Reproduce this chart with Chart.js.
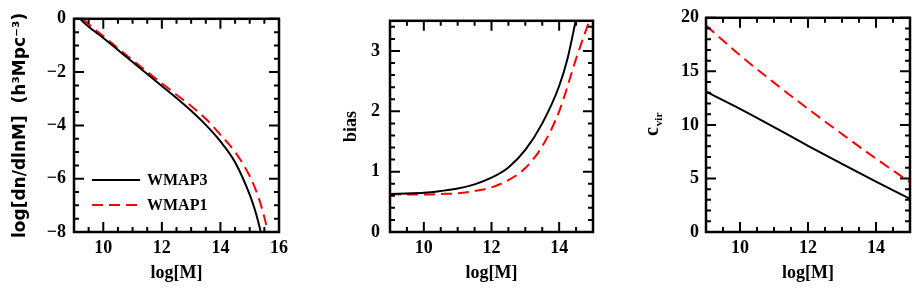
<!DOCTYPE html>
<html>
<head>
<meta charset="utf-8">
<script src="https://cdn.jsdelivr.net/npm/chart.js@4.4.1/dist/chart.umd.min.js"></script>
<style>
  body { margin: 0; background: #fff; width: 916px; height: 288px; position: relative; overflow: hidden; }
  canvas { position: absolute; top: 0; }
</style>
</head>
<body>
<canvas id="massChart" width="300" height="288" style="left:0"></canvas>
<canvas id="biasChart" width="305" height="288" style="left:305px"></canvas>
<canvas id="concChart" width="301" height="288" style="left:615px"></canvas>
<script>
// mass function, log(dn/dlnM)
const massX3 = [9.2, 9.5, 10, 11, 12, 12.5, 13, 13.5, 14, 14.5, 15, 15.2, 15.38];
const massY3 = [0, -0.3, -0.72, -1.62, -2.52, -2.97, -3.45, -3.98, -4.6, -5.38, -6.6, -7.25, -8];
const massX1 = [9.3, 9.5, 10, 11, 12, 12.5, 13, 13.5, 14, 14.5, 15, 15.3, 15.5, 15.62];
const massY1 = [0, -0.2, -0.65, -1.55, -2.42, -2.85, -3.27, -3.75, -4.35, -5.0, -5.9, -6.7, -7.45, -8];

// halo bias
const biasX3 = [9, 9.5, 10, 10.5, 11, 11.5, 12, 12.5, 13, 13.5, 14, 14.25, 14.49];
const biasY3 = [0.63, 0.64, 0.65, 0.68, 0.72, 0.79, 0.9, 1.07, 1.36, 1.8, 2.42, 2.88, 3.5];
const biasX1 = [9, 9.5, 10, 10.5, 11, 11.5, 12, 12.5, 13, 13.5, 14, 14.5, 14.89];
const biasY1 = [0.63, 0.62, 0.62, 0.63, 0.64, 0.68, 0.74, 0.86, 1.06, 1.42, 2.0, 2.87, 3.5];

// concentration c_vir
const concX = [9, 10, 11, 12, 13, 14, 15];
const concY3 = [13.1, 11.5, 9.8, 8.05, 6.35, 4.7, 3.1];
const concY1 = [19.3, 16.5, 13.95, 11.5, 9.15, 6.85, 4.65];

const seriesNames = ['WMAP3', 'WMAP1'];

const massTicksX = [10, 12, 14, 16];
const massTicksY = [0, -2, -4, -6, -8];
const biasTicksX = [10, 12, 14];
const biasTicksY = [0, 1, 2, 3];
const concTicksX = [10, 12, 14];
const concTicksY = [0, 5, 10, 15, 20];

const tickFont = { family: 'Liberation Serif', size: 18, weight: 'bold' };
const titleFont = { family: 'Liberation Serif', size: 18, weight: 'bold' };

function pts(xs, ys) {
    return xs.map((x, i) => ({ x: x, y: ys[i] }));
}

function lineSet(label, data, red) {
    return {
        label: label,
        data: data,
        borderColor: red ? '#ff0000' : '#000000',
        borderWidth: 2,
        borderDash: red ? [11, 6] : [],
        pointRadius: 0,
        cubicInterpolationMode: 'monotone',
        fill: false
    };
}

// inward ticks on all four sides plus the box
const frameTicks = {
    id: 'frameTicks',
    afterDatasetsDraw(chart, args, opts) {
        const { ctx, chartArea: a, scales: { x, y } } = chart;
        const isMajor = (v, m) => Math.abs(v / m - Math.round(v / m)) < 1e-6;
        ctx.save();
        ctx.strokeStyle = '#000';
        ctx.lineWidth = 2;
        ctx.beginPath();
        const nx = Math.floor((x.max - x.min) / opts.xMinor + 1e-6);
        for (let i = 0; i <= nx; i++) {
            const v = x.min + i * opts.xMinor;
            const px = x.getPixelForValue(v);
            const len = isMajor(v, opts.xMajor) ? 10 : 5;
            ctx.moveTo(px, a.bottom); ctx.lineTo(px, a.bottom - len);
            ctx.moveTo(px, a.top); ctx.lineTo(px, a.top + len);
        }
        const ny = Math.floor((y.max - y.min) / opts.yMinor + 1e-6);
        for (let i = 0; i <= ny; i++) {
            const v = y.min + i * opts.yMinor;
            const py = y.getPixelForValue(v);
            const len = isMajor(v, opts.yMajor) ? 10 : 5;
            ctx.moveTo(a.left, py); ctx.lineTo(a.left + len, py);
            ctx.moveTo(a.right, py); ctx.lineTo(a.right - len, py);
        }
        ctx.stroke();
        ctx.lineWidth = 2.5;
        ctx.strokeRect(a.left, a.top, a.width, a.height);
        ctx.restore();
    }
};

// legend drawn inside the first panel
const innerLegend = {
    id: 'innerLegend',
    afterDatasetsDraw(chart, args, opts) {
        if (!opts.show) return;
        const { ctx, chartArea: a } = chart;
        ctx.save();
        chart.data.datasets.forEach((ds, i) => {
            const yy = a.bottom - 52 + i * 25;
            ctx.strokeStyle = ds.borderColor;
            ctx.lineWidth = 2;
            ctx.setLineDash(ds.borderDash);
            ctx.beginPath();
            ctx.moveTo(a.left + 18, yy);
            ctx.lineTo(a.left + 66, yy);
            ctx.stroke();
            ctx.setLineDash([]);
            ctx.fillStyle = '#000';
            ctx.font = 'bold 16px "Liberation Serif"';
            ctx.textBaseline = 'middle';
            ctx.fillText(ds.label, a.left + 73, yy + 1);
        });
        ctx.restore();
    }
};

// c_vir label with a subscript
const subTitle = {
    id: 'subTitle',
    afterDraw(chart, args, opts) {
        if (!opts.text) return;
        const { ctx, chartArea: a } = chart;
        ctx.save();
        ctx.translate(opts.x, (a.top + a.bottom) / 2);
        ctx.rotate(-Math.PI / 2);
        ctx.fillStyle = '#000';
        ctx.textBaseline = 'middle';
        ctx.font = 'bold 20px "Liberation Serif"';
        const w = ctx.measureText(opts.text).width;
        ctx.font = 'bold 11px "Liberation Serif"';
        const ws = ctx.measureText(opts.sub).width;
        const start = -(w + ws) / 2;
        ctx.font = 'bold 20px "Liberation Serif"';
        ctx.fillText(opts.text, start, 0);
        ctx.font = 'bold 11px "Liberation Serif"';
        ctx.fillText(opts.sub, start + w + 1, 6);
        ctx.restore();
    }
};

function makePanel(id, cfg) {
    const ctx = document.getElementById(id);
    return new Chart(ctx, {
        type: 'line',
        data: {
            datasets: [
                lineSet(seriesNames[0], cfg.black, false),
                lineSet(seriesNames[1], cfg.red, true)
            ]
        },
        options: {
            responsive: false,
            animation: false,
            layout: { padding: { top: 12, right: cfg.right, left: 0, bottom: 0 } },
            plugins: {
                legend: { display: false },
                tooltip: { enabled: false },
                frameTicks: cfg.minor,
                innerLegend: { show: cfg.legend },
                subTitle: cfg.sub || {}
            },
            scales: {
                x: {
                    type: 'linear',
                    min: cfg.xMin,
                    max: cfg.xMax,
                    afterBuildTicks: s => { s.ticks = cfg.xTicks.map(v => ({ value: v })); },
                    afterFit: s => { s.height = 56; },
                    grid: { display: false, drawTicks: false },
                    border: { display: false },
                    ticks: { color: '#000', font: tickFont, padding: 6, maxRotation: 0 },
                    title: {
                        display: true, text: 'log[M]', color: '#000',
                        font: titleFont, padding: { top: 0, bottom: 4 }
                    }
                },
                y: {
                    type: 'linear',
                    min: cfg.yMin,
                    max: cfg.yMax,
                    afterBuildTicks: s => { s.ticks = cfg.yTicks.map(v => ({ value: v })); },
                    afterFit: s => { s.width = cfg.yw; },
                    grid: { display: false, drawTicks: false },
                    border: { display: false },
                    ticks: {
                        color: '#000', font: tickFont, padding: cfg.tickPad,
                        callback: v => String(v).replace('-', '\u2212')
                    },
                    title: {
                        display: !!cfg.yTitle, text: cfg.yTitle || '', color: '#000',
                        font: cfg.yTitleFont || titleFont, padding: { top: cfg.titlePad, bottom: 0 }
                    }
                }
            }
        },
        plugins: [frameTicks, innerLegend, subTitle]
    });
}

makePanel('massChart', {
    black: pts(massX3, massY3), red: pts(massX1, massY1),
    xMin: 9, xMax: 16, yMin: -8, yMax: 0,
    xTicks: massTicksX, yTicks: massTicksY,
    yw: 74, right: 21, tickPad: 8, titlePad: 10,
    yTitle: 'log[dn/dlnM]  (h\u00b3Mpc\u207b\u00b3)',
    yTitleFont: { family: 'DejaVu Sans', size: 17, weight: 'bold' },
    minor: { xMinor: 0.5, xMajor: 2, yMinor: 0.5, yMajor: 2 },
    legend: true
});

makePanel('biasChart', {
    black: pts(biasX3, biasY3), red: pts(biasX1, biasY1),
    xMin: 9, xMax: 15, yMin: 0, yMax: 3.5,
    xTicks: biasTicksX, yTicks: biasTicksY,
    yw: 85, right: 17, tickPad: 10, titlePad: 36,
    yTitle: 'bias',
    minor: { xMinor: 0.5, xMajor: 2, yMinor: 0.2, yMajor: 1 },
    legend: false
});

makePanel('concChart', {
    black: pts(concX, concY3), red: pts(concX, concY1),
    xMin: 9, xMax: 15, yMin: 0, yMax: 20,
    xTicks: concTicksX, yTicks: concTicksY,
    yw: 91, right: 6, tickPad: 7, titlePad: 0,
    yTitle: '',
    sub: { text: 'c', sub: 'vir', x: 38 },
    minor: { xMinor: 0.5, xMajor: 2, yMinor: 1, yMajor: 5 },
    legend: false
});
</script>
</body>
</html>
